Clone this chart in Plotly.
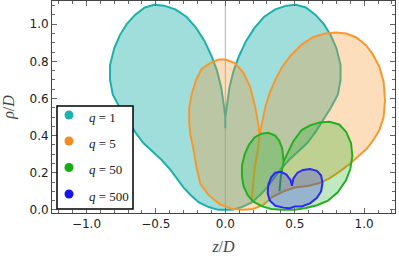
import plotly.graph_objects as go

# ---------------- data ----------------
labels = ["q = 1", "q = 5", "q = 50", "q = 500"]

z_q1 = [0.0, 0.0, -0.01, -0.03, -0.06, -0.10, -0.15, -0.21, -0.28, -0.36, -0.44, -0.51, -0.58, -0.65,
        -0.71, -0.76, -0.80, -0.83, -0.83, -0.81, -0.76, -0.70, -0.65, -0.59, -0.52, -0.46, -0.40,
        -0.35, -0.30, -0.25, -0.19, -0.12, -0.05, 0.0, 0.05, 0.12, 0.19, 0.25, 0.30, 0.35, 0.40, 0.46,
        0.52, 0.59, 0.65, 0.70, 0.76, 0.81, 0.83, 0.83, 0.80, 0.76, 0.71, 0.65, 0.58, 0.51, 0.44, 0.36,
        0.28, 0.21, 0.15, 0.10, 0.06, 0.03, 0.01, 0.0, 0.0]
rho_q1 = [0.44, 0.50, 0.56, 0.66, 0.75, 0.83, 0.91, 0.98, 1.04, 1.08, 1.10, 1.105, 1.09, 1.05,
          1.00, 0.94, 0.87, 0.78, 0.70, 0.62, 0.55, 0.48, 0.42, 0.36, 0.31, 0.27, 0.22,
          0.17, 0.12, 0.08, 0.04, 0.015, 0.0, 0.0, 0.0, 0.015, 0.04, 0.08, 0.12, 0.17, 0.22, 0.27,
          0.31, 0.36, 0.42, 0.48, 0.55, 0.62, 0.70, 0.78, 0.87, 0.94, 1.00, 1.05, 1.09, 1.105, 1.10, 1.08,
          1.04, 0.98, 0.91, 0.83, 0.75, 0.66, 0.56, 0.50, 0.44]

z_q5 = [0.245, 0.24, 0.22, 0.18, 0.13, 0.07, 0.0, -0.05, -0.11, -0.17, -0.21, -0.24, -0.26, -0.26,
        -0.25, -0.23, -0.21, -0.18, -0.12, -0.04, 0.05, 0.13, 0.20, 0.27, 0.34, 0.42, 0.50, 0.60,
        0.68, 0.75, 0.83, 0.90, 0.96, 1.02, 1.07, 1.11, 1.14, 1.15, 1.14, 1.11, 1.06, 1.01, 0.94,
        0.87, 0.80, 0.72, 0.63, 0.55, 0.47, 0.41, 0.36, 0.32, 0.29, 0.27, 0.255, 0.245, 0.24, 0.21, 0.19]
rho_q5 = [0.40, 0.45, 0.54, 0.66, 0.74, 0.79, 0.81, 0.81, 0.79, 0.76, 0.70, 0.63, 0.55, 0.47,
          0.40, 0.33, 0.24, 0.14, 0.08, 0.03, 0.005, 0.0, 0.005, 0.025, 0.07, 0.10, 0.12, 0.13,
          0.145, 0.17, 0.21, 0.25, 0.29, 0.33, 0.38, 0.43, 0.50, 0.59, 0.69, 0.77, 0.84, 0.89, 0.93,
          0.95, 0.955, 0.95, 0.93, 0.89, 0.83, 0.77, 0.70, 0.63, 0.56, 0.49, 0.43, 0.40, 0.35, 0.22, 0.05]

z_q50 = [0.42, 0.41, 0.39, 0.36, 0.31, 0.26, 0.21, 0.17, 0.14, 0.12, 0.12, 0.13, 0.16, 0.20, 0.26,
         0.33, 0.41, 0.50, 0.58, 0.66, 0.74, 0.81, 0.87, 0.90, 0.915, 0.905, 0.87, 0.82, 0.75, 0.68,
         0.61, 0.55, 0.49, 0.45, 0.42, 0.40, 0.39]
rho_q50 = [0.26, 0.33, 0.37, 0.40, 0.415, 0.41, 0.39, 0.35, 0.30, 0.24, 0.18, 0.13, 0.08, 0.045, 0.02,
           0.005, 0.0, 0.0, 0.01, 0.025, 0.05, 0.095, 0.16, 0.22, 0.29, 0.36, 0.42, 0.46, 0.475, 0.47,
           0.455, 0.43, 0.37, 0.31, 0.26, 0.18, 0.10]

z_q500 = [0.48, 0.47, 0.44, 0.40, 0.36, 0.33, 0.31, 0.305, 0.32, 0.36, 0.42, 0.46, 0.50, 0.55, 0.61,
          0.66, 0.69, 0.70, 0.69, 0.66, 0.61, 0.56, 0.52, 0.49, 0.48]
rho_q500 = [0.13, 0.16, 0.19, 0.205, 0.20, 0.175, 0.135, 0.09, 0.05, 0.022, 0.012, 0.008, 0.018, 0.018, 0.035,
            0.065, 0.10, 0.145, 0.185, 0.21, 0.22, 0.215, 0.20, 0.17, 0.13]

z_ref = 0.0
x_ticks = [-1.0, -0.5, 0.0, 0.5, 1.0]
y_ticks = [0.0, 0.2, 0.4, 0.6, 0.8, 1.0]

# ---------------- styling ----------------
line_colors = ["#1cb0ab", "#f7982f", "#22b022", "#2a2af0"]
fill_colors = ["rgba(28,176,171,0.42)", "rgba(247,152,47,0.32)",
               "rgba(34,176,34,0.28)", "rgba(42,42,240,0.28)"]
legend_colors = ["#1db3ae", "#f58a1f", "#14ad14", "#1414f0"]

series = [(z_q1, rho_q1), (z_q5, rho_q5), (z_q50, rho_q50), (z_q500, rho_q500)]

fig = go.Figure()
for (zs, rs), lc, fc, lab in zip(series, line_colors, fill_colors, labels):
    fig.add_trace(go.Scatter(x=zs, y=rs, mode="lines", fill="toself", fillcolor=fc, name=lab,
                             line=dict(color=lc, width=2), showlegend=False, hoverinfo="skip"))

fig.add_vline(x=z_ref, line=dict(color="#b0b0b0", width=1), layer="below")

# ---------------- hand-made legend box (paper coords) ----------------
W, H = 399, 261
ml, mr, mt, mb = 52, 4, 1, 48
pw, ph = W - ml - mr, H - mt - mb


def px_x(p):
    return (p - ml) / pw


def px_y(p):
    return (H - mb - p) / ph


fig.add_shape(type="rect", xref="paper", yref="paper",
              x0=px_x(57), x1=px_x(133), y0=px_y(209), y1=px_y(106),
              line=dict(color="black", width=1.5), fillcolor="white", layer="above")
item_y = [115, 141, 167.5, 194]
r = 4.5
for lab, col, yy in zip(labels, legend_colors, item_y):
    fig.add_shape(type="circle", xref="paper", yref="paper",
                  x0=px_x(69 - r), x1=px_x(69 + r), y0=px_y(yy + r), y1=px_y(yy - r),
                  line=dict(color=col, width=0), fillcolor=col, layer="above")
    q, val = lab.split(" = ")
    fig.add_annotation(xref="paper", yref="paper", x=px_x(87), y=px_y(yy + 2),
                       xanchor="left", yanchor="middle", showarrow=False,
                       text=f"<i>{q}</i> = {val}",
                       font=dict(family="Liberation Serif", size=13, color="#222"))

axis_common = dict(showgrid=False, zeroline=False, showline=True, linecolor="#444", linewidth=1,
                   mirror="allticks", ticks="inside", ticklen=5, tickcolor="#666", automargin=False,
                   tickfont=dict(family="DejaVu Sans", size=12, color="#222"))

fig.update_xaxes(**axis_common, range=[-1.248, 1.222], tickvals=x_ticks,
                 ticktext=["\u22121.0", "\u22120.5", "0.0", "0.5", "1.0"],
                 minor=dict(dtick=0.1, tick0=0, ticks="inside", ticklen=3, tickcolor="#666"),
                 title=dict(text="<i>z</i>/<i>D</i>", font=dict(family="Liberation Serif", size=16, color="#444"),
                            standoff=10))
fig.update_yaxes(**axis_common, range=[-0.017, 1.125], tickvals=y_ticks,
                 ticktext=["0.0", "0.2", "0.4", "0.6", "0.8", "1.0"],
                 minor=dict(dtick=0.05, tick0=0, ticks="inside", ticklen=3, tickcolor="#666"),
                 title=dict(text="<i>ρ</i>/<i>D</i>", font=dict(family="Liberation Serif", size=16, color="#444"),
                            standoff=10))

fig.update_layout(
    width=W, height=H,
    margin=dict(l=ml, r=mr, t=mt, b=mb),
    plot_bgcolor="white", paper_bgcolor="white",
    showlegend=False,
)

fig.write_html("out.html", config={"displayModeBar": False},
               post_script="document.body.style.margin='0';")
